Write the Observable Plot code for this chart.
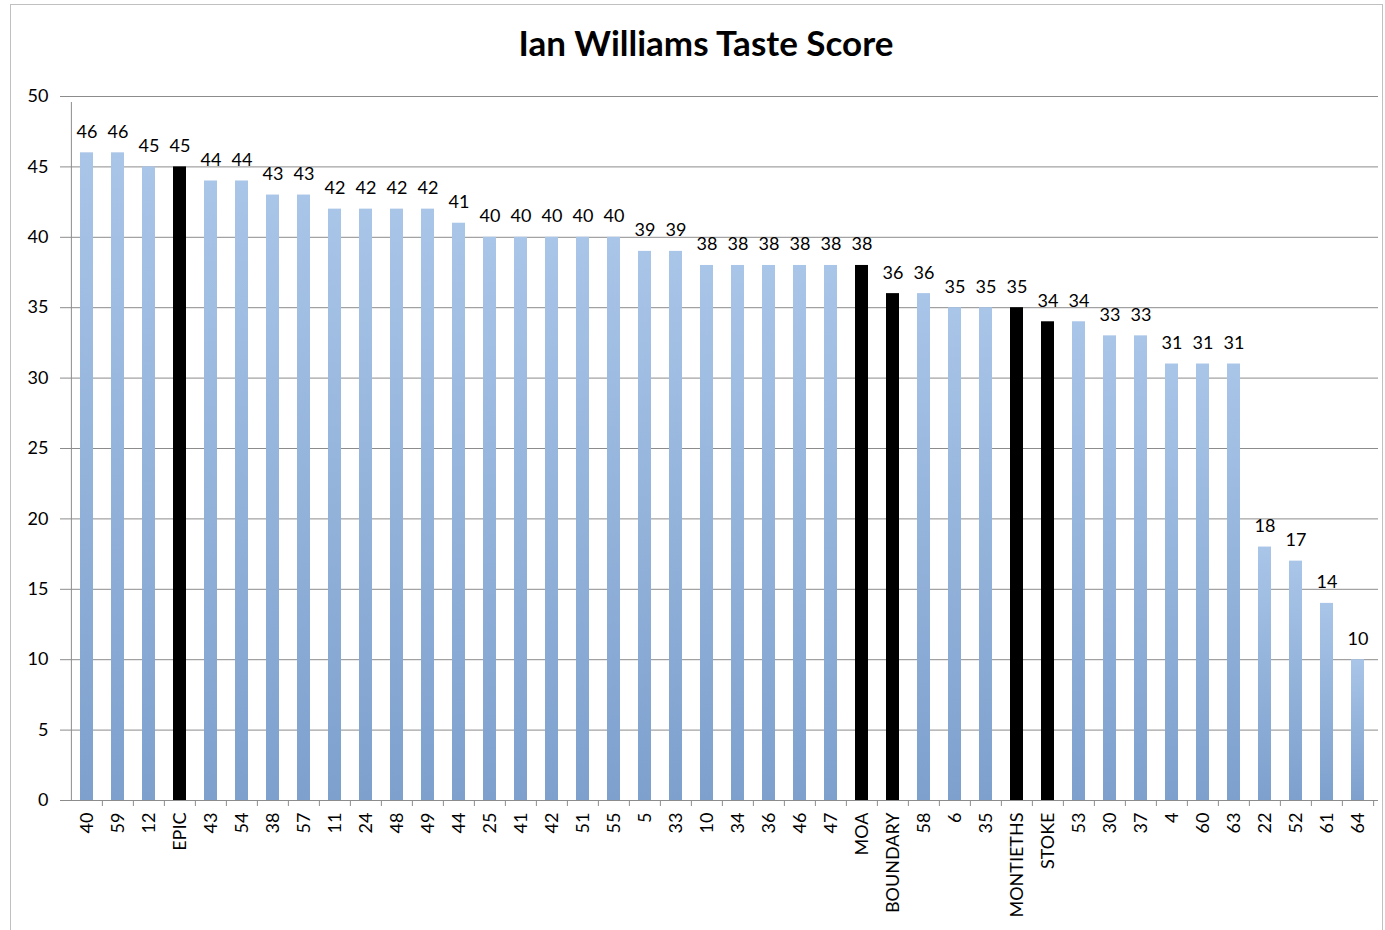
<!DOCTYPE html>
<html><head><meta charset="utf-8">
<script src="https://cdn.jsdelivr.net/npm/d3@7"></script>
<script src="https://cdn.jsdelivr.net/npm/@observablehq/plot@0.6"></script>
<style>
body{margin:0;background:#fff;}
#frame{position:absolute;left:10px;top:4px;width:1373px;height:1000px;border:1px solid #c0c0c0;box-sizing:border-box;}
#chart{position:absolute;left:0;top:0;}
#title{position:absolute;left:0;width:1412px;top:21px;text-align:center;font:bold 35px Lato;color:#000;}
</style></head>
<body><div id="frame"></div><div id="chart"></div><div id="title">Ian Williams Taste Score</div>
<script>
const categories = ["40","59","12","EPIC","43","54","38","57","11","24","48","49","44","25","41","42","51","55","5","33","10","34","36","46","47","MOA","BOUNDARY","58","6","35","MONTIETHS","STOKE","53","30","37","4","60","63","22","52","61","64"];
const scores = [46,46,45,45,44,44,43,43,42,42,42,42,41,40,40,40,40,40,39,39,38,38,38,38,38,38,36,36,35,35,35,34,34,33,33,31,31,31,18,17,14,10];
const brands = ["EPIC","MOA","BOUNDARY","MONTIETHS","STOKE"];
const yTicks = [0,5,10,15,20,25,30,35,40,45,50];

const data = categories.map((c,i)=>({category:c, score:scores[i], brand:brands.includes(c)}));

const W=1385, H=930, ML=66, MR=7, MT=96, MB=130;
const step = (W-ML-MR)/categories.length;
const grid = "#8c8c8c";

const gradient = () => {
  const ns="http://www.w3.org/2000/svg";
  const defs=document.createElementNS(ns,"defs");
  defs.innerHTML = `<linearGradient id="barGrad" x1="0" y1="0" x2="0" y2="1"><stop offset="0" stop-color="#a9c5e8"/><stop offset="1" stop-color="#7da0cd"/></linearGradient>`;
  return defs;
};

const chart = Plot.plot({
  width:W, height:H, marginLeft:ML, marginRight:MR, marginTop:MT, marginBottom:MB,
  style:{fontFamily:"Lato", fontSize:"18px", color:"#000", background:"transparent", overflow:"visible"},
  x:{domain:categories, paddingInner:0.58, paddingOuter:0.29, label:null},
  y:{domain:[0,50], label:null},
  marks:[
    gradient,
    Plot.gridY(yTicks, {stroke:grid, strokeOpacity:1}),
    Plot.barY(data.filter(d=>!d.brand), {x:"category", y:"score", fill:"url(#barGrad)"}),
    Plot.barY(data.filter(d=>d.brand), {x:"category", y:"score", fill:"#000"}),
    Plot.ruleX([categories[0]], {x:d=>d, y1:0, y2:50, dx:-step/2, insetBottom:-6, stroke:grid}),
    Plot.ruleX(categories.slice(1), {x:d=>d, y1:0, y2:0, dx:-step/2, insetBottom:-6, stroke:grid}),
    Plot.ruleX([categories[categories.length-1]], {x:d=>d, y1:0, y2:0, dx:step/2, insetBottom:-6, stroke:grid}),
    Plot.axisY({ticks:yTicks, tickSize:6, tickPadding:12, stroke:grid, fill:"#000", label:null, fontSize:18}),
    Plot.axisX({tickSize:0, tickPadding:12, tickRotate:-90, label:null, fontSize:18, fill:"#000"}),
    Plot.text(data, {x:"category", y:"score", text:d=>String(d.score), dy:-15, lineAnchor:"bottom", fontSize:18, fill:"#000"})
  ]
});
document.getElementById("chart").append(chart);
</script>
</body></html>
